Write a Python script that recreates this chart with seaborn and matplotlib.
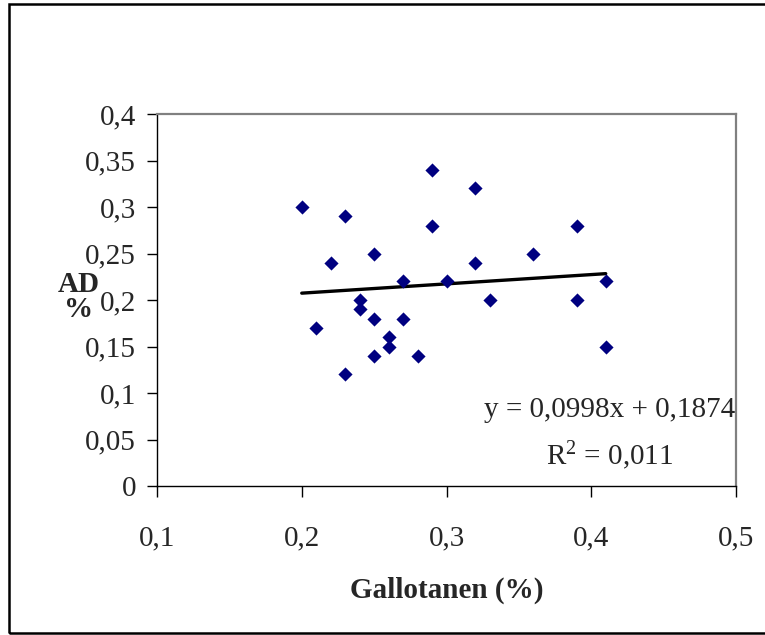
import matplotlib
matplotlib.use("Agg")
import matplotlib.pyplot as plt
from matplotlib.patches import Rectangle
from matplotlib.ticker import FixedLocator, FixedFormatter
import seaborn as sns
import pandas as pd
import numpy as np

# ---- data ----
gallotanen = [0.20, 0.21, 0.22, 0.23, 0.23, 0.24, 0.24, 0.25, 0.25, 0.25, 0.26, 0.26, 0.27,
              0.27, 0.28, 0.29, 0.29, 0.30, 0.32, 0.32, 0.33, 0.36, 0.39, 0.39, 0.41, 0.41]
ad = [0.30, 0.17, 0.24, 0.29, 0.12, 0.20, 0.19, 0.25, 0.18, 0.14, 0.16, 0.15, 0.22,
      0.18, 0.14, 0.34, 0.28, 0.22, 0.32, 0.24, 0.20, 0.25, 0.28, 0.20, 0.22, 0.15]
trend_slope = 0.0998
trend_intercept = 0.1874
x_ticks = [0.1, 0.2, 0.3, 0.4, 0.5]
x_tick_labels = ["0,1", "0,2", "0,3", "0,4", "0,5"]
y_ticks = [0, 0.05, 0.1, 0.15, 0.2, 0.25, 0.3, 0.35, 0.4]
y_tick_labels = ["0", "0,05", "0,1", "0,15", "0,2", "0,25", "0,3", "0,35", "0,4"]
equation_text = "y = 0,0998x + 0,1874"
r2_text = "R$^2$ = 0,011"
x_label = "Gallotanen (%)"
y_label = "AD\n%"

sns.set_style("white")
plt.rcParams["font.family"] = ["Liberation Serif", "DejaVu Serif"]
plt.rcParams["mathtext.fontset"] = "custom"
plt.rcParams["mathtext.rm"] = "Liberation Serif"
plt.rcParams["mathtext.it"] = "Liberation Serif:italic"
plt.rcParams["mathtext.bf"] = "Liberation Serif:bold"

W, H = 765, 635
fig = plt.figure(figsize=(W / 100, H / 100), dpi=100)
fig.patch.set_facecolor("white")

L, R, T, B = 157, 736, 114, 486
ax = fig.add_axes([L / W, 1 - B / H, (R - L) / W, (B - T) / H])

df = pd.DataFrame({"x": gallotanen, "y": ad})
sns.scatterplot(data=df, x="x", y="y", marker="D", s=52, color="#000080",
                linewidth=0, ax=ax, zorder=3)

tx = np.array([min(gallotanen), max(gallotanen)])
sns.lineplot(x=tx, y=trend_slope * tx + trend_intercept, color="black", lw=2.4,
             ax=ax, zorder=2)

ax.set_xlim(0.1, 0.5)
ax.set_ylim(0, 0.4)
ax.xaxis.set_major_locator(FixedLocator(x_ticks))
ax.xaxis.set_major_formatter(FixedFormatter(x_tick_labels))
ax.yaxis.set_major_locator(FixedLocator(y_ticks))
ax.yaxis.set_major_formatter(FixedFormatter(y_tick_labels))

fs = 21
ax.tick_params(axis="y", direction="out", length=7, width=1, color="black",
               labelsize=fs, pad=8, left=True)
ax.tick_params(axis="x", direction="out", length=8, width=1, color="black",
               labelsize=fs, pad=20, bottom=True)

for s in ["left", "bottom"]:
    ax.spines[s].set_color("black")
    ax.spines[s].set_linewidth(1.0)
for s in ["top", "right"]:
    ax.spines[s].set_color("#808080")
    ax.spines[s].set_linewidth(1.6)

ax.set_xlabel(x_label, fontsize=fs, fontweight="bold")
ax.xaxis.set_label_coords(0.5, -0.245)
ax.set_ylabel(y_label, fontsize=fs, fontweight="bold", rotation=0,
              ha="center", va="center", linespacing=0.95)
ax.yaxis.set_label_coords(-0.136, 0.508)

ax.text(0.782, 0.185, equation_text, transform=ax.transAxes, fontsize=fs,
        ha="center", va="baseline")
ax.text(0.782, 0.056, r2_text, transform=ax.transAxes, fontsize=fs,
        ha="center", va="baseline")

fig.add_artist(Rectangle((8.5 / W, 1 - 633 / H), 1.2, (633 - 4) / H,
                         transform=fig.transFigure, fill=False,
                         edgecolor="black", lw=1.8, clip_on=False))

fig.savefig("out.png", dpi=100)
